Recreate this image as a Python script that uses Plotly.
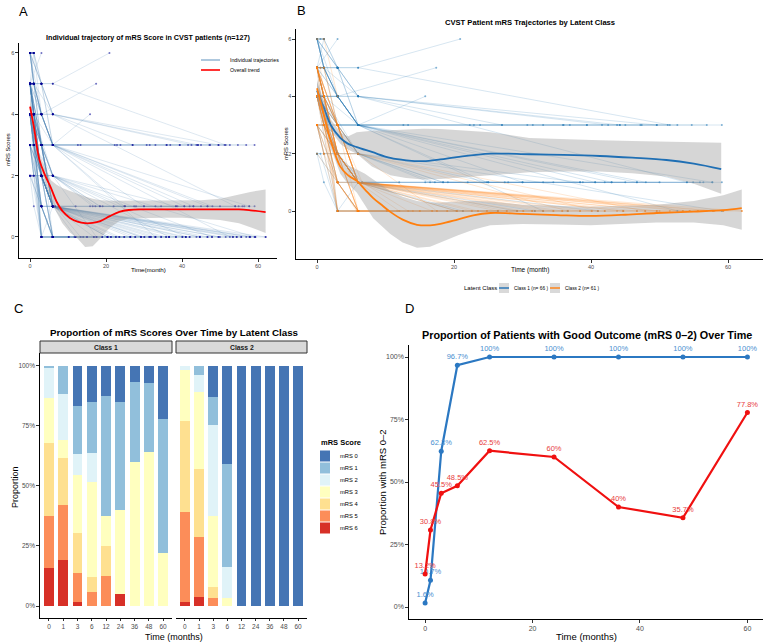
import plotly.graph_objects as go

W, H = 767, 643

# ---------------------------------------------------------------- data
# individual trajectories (time in months, mRS score)
CLASS1_TRAJ = [
    ([0, 1, 3, 6, 12.6, 22.3, 27, 31.5, 36, 41.6, 45, 49.6, 54.7, 59.1], [5, 5, 4, 3, 3, 3, 3, 3, 3, 3, 3, 3, 3, 3]),
    ([0, 3, 6, 22.9, 30.7, 35.9, 39.4, 44.2, 47.4, 52.6], [6, 4, 3, 3, 3, 3, 3, 3, 3, 3]),
    ([0, 1, 6, 23.8, 33, 36.9, 43.8, 47.2, 51.2], [4, 4, 3, 3, 3, 3, 3, 3, 3]),
    ([0, 3, 6, 51.5], [6, 5, 5, 3]),
    ([0, 1, 3, 6, 49.6], [5, 5, 5, 4, 3]),
    ([0, 3, 6, 44.2], [5, 5, 4, 3]),
    ([0, 1, 3, 6, 20.9], [6, 6, 5, 5, 6]),
    ([0, 1, 3, 17.4], [6, 5, 4, 5]),
    ([0, 3, 6, 15.8], [5, 4, 3, 4]),
    ([0, 0.3, 3.1, 6.6, 15.8, 19.1, 25, 30, 38.4, 42, 46.7, 54.9, 59.1], [4, 4, 2, 1, 1, 1, 1, 1, 1, 1, 1, 1, 1]),
    ([0, 0.9, 6, 16.5, 22, 27.4, 33, 40.6, 54, 57.7], [5, 4, 2, 1, 1, 1, 1, 1, 1, 1]),
    ([0, 3, 6, 17.2, 27.9, 38.8, 43, 55.9], [4, 3, 2, 1, 1, 1, 1, 1]),
    ([0, 1, 6, 18.4, 56.4], [3, 3, 2, 1, 1]),
    ([0, 1, 3, 6, 54], [6, 5, 4, 4, 1]),
    ([0, 3, 6, 57.7], [5, 4, 3, 1]),
    ([0, 1, 3, 6, 46.7], [4, 4, 4, 3, 1]),
    ([0, 3, 6, 30], [6, 5, 3, 1]),
    ([0, 1, 3, 6, 38.4], [5, 5, 3, 2, 1]),
    ([0, 3, 6, 59.1], [4, 3, 2, 0]),
    ([0, 1], [6, 6]),
    ([0, 0.5, 1], [6, 6, 6]),
    ([0, 3], [5, 6]),
    ([0, 3, 6, 26.4], [4, 0, 0, 0]),
    ([0, 1, 3, 6], [2, 1, 0, 0]),
    ([0, 3, 6, 36.6], [3, 1, 0, 0]),
    ([0, 1, 3, 6, 20.4], [4, 3, 1, 1, 0]),
    ([0, 3, 6, 29.2], [5, 3, 1, 0]),
    ([0, 3, 6, 41], [2, 1, 1, 0]),
    ([0, 1, 3, 6, 12], [3, 3, 2, 1, 1]),
    ([0, 3, 6, 34.5], [4, 2, 1, 1]),
    ([0, 0.5, 3, 6], [5, 4, 3, 3]),
    ([0, 1, 3, 6, 13.3], [6, 5, 5, 3, 3]),
    ([0, 3, 6, 43], [3, 3, 3, 1]),
    ([0, 1, 3, 6, 48], [5, 4, 3, 3, 1]),
    ([0, 1], [6, 5]),
    ([0, 1, 3], [6, 6, 5]),
    ([0, 0.5, 1, 3], [5, 5, 5, 4]),
    ([0, 1, 3, 6], [6, 5, 4, 3]),
    ([0, 1, 3, 6], [4, 3, 3, 3]),
    ([0, 3, 6, 31.8], [3, 2, 1, 0]),
    ([0, 1, 3, 6, 25], [5, 4, 2, 2, 1]),
    ([0, 1, 3, 6], [4, 4, 3, 2]),
    ([0, 1, 3, 6, 40.6], [6, 5, 4, 3, 1]),
    ([0, 3, 6, 52.6], [4, 4, 3, 0]),
    ([0, 1, 3, 6, 33], [5, 4, 3, 3, 0]),
    ([0, 1, 3], [5, 4, 0]),
    ([0, 3, 6, 21.3], [3, 0, 1, 0]),
    ([0, 0.5, 3, 6], [2, 2, 0, 0]),
    ([0, 1, 3, 6, 45], [4, 3, 2, 1, 1]),
    ([0, 3, 6, 27], [6, 5, 4, 3]),
    ([0, 1, 3, 6, 56.9], [5, 4, 4, 3, 3]),
    ([0, 3, 6, 39.4], [4, 4, 3, 3]),
    ([0, 1, 6, 42.5], [6, 5, 4, 3]),
    ([0, 3, 6, 18.4], [3, 2, 2, 1]),
    ([0, 1, 3, 6], [3, 2, 2, 1]),
    ([0, 3, 6, 24.8], [4, 3, 3, 1]),
    ([0, 1, 3, 6], [5, 5, 4, 4]),
    ([0, 1], [5, 6]),
    ([0, 0.5, 1, 3, 6], [4, 4, 3, 1, 0]),
    ([0, 3, 6, 50], [2, 2, 1, 1]),
]

CLASS2_TRAJ = [
    ([0, 1, 3, 6, 10.2, 15, 19, 22.6, 26.4, 30.1, 33, 36.6, 41, 44.7, 49.6, 54.4, 57.8, 62], [5, 4, 2, 0, 0, 0, 0, 0, 0, 0, 0, 0, 0, 0, 0, 0, 0, 0]),
    ([0, 3, 5.8, 11.7, 16.8, 21.3, 24.8, 29.2, 31.8, 35.8, 40.1, 43.8, 47.9, 53.4, 56.9, 59.3], [4, 1, 0, 0, 0, 0, 0, 0, 0, 0, 0, 0, 0, 0, 0, 0]),
    ([0, 3, 6.6, 13.3, 17.5, 20.4, 23.5, 27.7, 31.4, 34.5, 38.4, 42, 46.7, 51.5, 55.6], [5, 3, 1, 0, 0, 0, 0, 0, 0, 0, 0, 0, 0, 0, 0]),
    ([0, 1, 3, 6, 20.4], [5, 5, 3, 1, 0]),
    ([0, 3, 6, 26.4], [4, 2, 1, 0]),
    ([0, 1, 3, 6, 33], [4, 3, 2, 1, 0]),
    ([0, 3, 6, 38.4], [5, 3, 1, 0]),
    ([0, 3, 6, 44.7], [3, 2, 1, 0]),
    ([0, 1, 3, 6, 50], [5, 4, 2, 1, 0]),
    ([0, 3, 6, 55.6], [4, 2, 1, 0]),
    ([0, 3, 6, 59.3], [3, 1, 1, 0]),
    ([0, 1, 3, 6, 16.8], [4, 4, 3, 1, 0]),
    ([0, 3, 6, 22.6], [5, 2, 1, 0]),
    ([0, 1, 3, 6, 29.2], [3, 3, 2, 1, 0]),
    ([0, 3, 6, 36.6], [4, 3, 2, 0]),
    ([0, 3, 6, 41], [5, 2, 2, 0]),
    ([0, 1, 3, 6, 47.9], [4, 3, 2, 2, 0]),
    ([0, 3, 6, 53.4], [5, 3, 1, 0]),
    ([0, 3, 6], [4, 0, 0]),
    ([0, 1, 3, 6], [5, 4, 0, 0]),
    ([0, 3, 6, 12], [3, 0, 0, 0]),
    ([0, 1, 3, 6], [4, 3, 1, 0]),
    ([0, 3, 6], [5, 2, 0]),
    ([0, 1, 3, 6, 19], [3, 2, 1, 0, 0]),
    ([0, 3, 6], [4, 2, 1]),
    ([0, 1, 3, 6], [5, 5, 3, 1]),
    ([0, 3, 6, 14], [4, 1, 0, 0]),
    ([0, 1, 3], [6, 6, 4]),
    ([0, 1, 3, 6, 24.8], [5, 4, 3, 0, 0]),
    ([0, 3, 6, 31.4], [4, 2, 0, 0]),
    ([0, 0.5, 1, 3, 6], [5, 5, 4, 2, 1]),
    ([0, 1, 3, 6, 42], [3, 3, 2, 0, 0]),
    ([0, 3, 6, 58], [5, 2, 1, 0]),
    ([0, 1, 3, 6, 35.8], [4, 4, 2, 1, 0]),
    ([0, 3, 6, 10.2], [2, 1, 0, 0]),
    ([0, 1, 3, 6], [5, 3, 3, 1]),
    ([0, 1, 3, 6, 27.7], [4, 3, 2, 1, 0]),
    ([0, 3, 6, 46.7], [5, 3, 1, 0]),
    ([0, 1, 3, 6, 12], [4, 4, 2, 1, 0]),
    ([0, 3, 6, 17.5], [5, 3, 2, 0]),
    ([0, 1, 3, 6, 23.5], [3, 3, 2, 1, 0]),
    ([0, 3, 6, 30.1], [4, 2, 1, 0]),
    ([0, 1, 3, 6, 40.1], [5, 4, 3, 1, 0]),
    ([0, 3, 6, 49.6], [4, 3, 1, 0]),
    ([0, 1, 3, 6, 57.8], [3, 2, 2, 1, 0]),
    ([0, 3, 6], [5, 0, 0]),
    ([0, 1, 3, 6], [4, 3, 0, 0]),
    ([0, 3, 6, 15], [3, 1, 0, 0]),
    ([0, 1, 3, 6], [5, 4, 2, 0]),
    ([0, 3, 6, 34.5], [5, 2, 1, 0]),
    ([0, 1, 3, 6, 44.7], [4, 3, 2, 1, 0]),
    ([0, 3, 6, 54.4], [3, 2, 1, 0]),
    ([0, 1, 3, 6, 62], [5, 4, 3, 1, 0]),
    ([0, 3, 6, 20.4], [4, 1, 1, 0]),
]

# overall LOESS trend (panel A) with 95% band
A_TREND_X = [0, 1, 2.5, 4, 5.5, 7, 8.5, 10.5, 12.5, 14.5, 16.5, 18.5, 21, 23.5, 26, 30, 35, 40, 45, 50, 55, 58, 62]
A_TREND_Y = [4.25, 3.6, 2.5, 2.0, 1.6, 1.15, 0.85, 0.62, 0.5, 0.45, 0.46, 0.52, 0.68, 0.82, 0.88, 0.9, 0.9, 0.9, 0.9, 0.9, 0.9, 0.87, 0.81]
A_TREND_LO = [4.0, 3.4, 2.3, 1.75, 1.2, 0.8, 0.45, 0.15, -0.05, -0.33, -0.3, -0.05, 0.3, 0.52, 0.6, 0.62, 0.63, 0.63, 0.6, 0.55, 0.45, 0.32, 0.13]
A_TREND_HI = [4.5, 3.8, 2.7, 2.25, 1.85, 1.7, 1.6, 1.5, 1.4, 1.32, 1.25, 1.2, 1.18, 1.18, 1.18, 1.18, 1.18, 1.18, 1.2, 1.25, 1.4, 1.47, 1.55]

# class-specific trends (panel B)
B1_X = [0, 1, 2, 3.4, 4.5, 5.8, 8, 10.7, 13, 15.5, 18, 20.4, 25.3, 31, 36, 41.3, 46, 51, 55, 59]
B1_Y = [4.2, 3.6, 3.0, 2.55, 2.35, 2.23, 2.06, 1.85, 1.77, 1.74, 1.8, 1.88, 2.0, 1.98, 1.96, 1.92, 1.86, 1.78, 1.65, 1.46]
B1_LO = [3.9, 3.35, 2.8, 2.35, 2.15, 2.0, 1.55, 1.25, 1.15, 1.1, 1.12, 1.15, 1.25, 1.35, 1.38, 1.38, 1.32, 1.2, 0.95, 0.6]
B1_HI = [4.5, 3.85, 3.2, 2.75, 2.6, 2.75, 2.8, 2.82, 2.85, 2.87, 2.86, 2.82, 2.75, 2.55, 2.5, 2.47, 2.44, 2.42, 2.4, 2.38]

B2_X = [0, 1, 2, 3.4, 4.5, 5.8, 7, 8.2, 9.5, 10.7, 12.5, 14.6, 16.5, 18, 20.5, 22.8, 25.3, 30, 35, 39.9, 45, 49.6, 55, 59.3, 62]
B2_Y = [4.28, 3.35, 2.45, 1.55, 1.25, 1.05, 0.75, 0.45, 0.2, -0.03, -0.3, -0.48, -0.5, -0.45, -0.3, -0.15, -0.07, -0.1, -0.14, -0.17, -0.13, -0.07, -0.02, 0.03, 0.1]
B2_LO = [3.95, 3.1, 2.2, 1.3, 0.95, 0.65, 0.2, -0.25, -0.55, -0.8, -1.1, -1.28, -1.25, -1.1, -0.85, -0.65, -0.5, -0.45, -0.47, -0.5, -0.45, -0.4, -0.4, -0.5, -0.65]
B2_HI = [4.6, 3.6, 2.7, 1.85, 1.6, 1.45, 1.3, 1.1, 0.9, 0.7, 0.5, 0.35, 0.3, 0.3, 0.33, 0.35, 0.33, 0.22, 0.18, 0.15, 0.18, 0.22, 0.35, 0.55, 0.75]

# proportions of mRS scores (panel C), percent
C_TIMES = ["0", "1", "3", "6", "12", "24", "36", "48", "60"]
MRS_LEVELS = ["mRS 0", "mRS 1", "mRS 2", "mRS 3", "mRS 4", "mRS 5", "mRS 6"]
MRS_COLORS = ["#4575b4", "#91bfdb", "#e0f3f8", "#ffffbf", "#fee090", "#fc8d59", "#d73027"]
CLASS1_PROP = {
    "mRS 0": [0, 0, 16.7, 15.2, 12.5, 15, 6.7, 7.1, 22.2],
    "mRS 1": [1, 11.5, 19.8, 21.2, 50, 45, 33.3, 28.6, 55.6],
    "mRS 2": [12.2, 19.3, 8.8, 12.1, 0, 0, 0, 0, 0],
    "mRS 3": [18.9, 7.7, 24.2, 39.4, 12.5, 35, 60, 64.3, 22.2],
    "mRS 4": [30.3, 19.3, 16.9, 6.1, 12.5, 0, 0, 0, 0],
    "mRS 5": [21.6, 23.1, 12.1, 6.0, 12.5, 0, 0, 0, 0],
    "mRS 6": [16, 19.1, 1.5, 0, 0, 5, 0, 0, 0],
}
CLASS2_PROP = {
    "mRS 0": [0, 0, 13.1, 41, 100, 100, 100, 100, 100],
    "mRS 1": [0, 3.6, 11.5, 42.6, 0, 0, 0, 0, 0],
    "mRS 2": [1.6, 7.1, 37.7, 13.1, 0, 0, 0, 0, 0],
    "mRS 3": [21.4, 32.1, 29.6, 3.3, 0, 0, 0, 0, 0],
    "mRS 4": [37.7, 28.6, 4.8, 0, 0, 0, 0, 0, 0],
    "mRS 5": [37.7, 25, 3.3, 0, 0, 0, 0, 0, 0],
    "mRS 6": [1.6, 3.6, 0, 0, 0, 0, 0, 0, 0],
}

# good outcome proportions (panel D), percent
D_TIMES = [0, 1, 3, 6, 12, 24, 36, 48, 60]
D_CLASS1 = [13.2, 30.8, 45.5, 48.5, 62.5, 60, 40, 35.7, 77.8]
D_CLASS2 = [1.6, 10.7, 62.3, 96.7, 100, 100, 100, 100, 100]

# ---------------------------------------------------------------- helpers
FONT = "Liberation Sans, Arial, Helvetica, sans-serif"


def px(x):
    return x / W


def py(y):
    return 1 - y / H


annotations = []
shapes = []


def text(s, x, y, size, bold=False, angle=0, xanchor="center", color="black"):
    annotations.append(dict(
        text=f"<b>{s}</b>" if bold else s, x=px(x), y=py(y), xref="paper", yref="paper",
        showarrow=False, textangle=angle, xanchor=xanchor, yanchor="middle",
        font=dict(family=FONT, size=size, color=color)))


def rect(x0, y0, x1, y1, fill, line=None, lw=0):
    shapes.append(dict(type="rect", xref="paper", yref="paper", x0=px(x0), x1=px(x1),
                       y0=py(y1), y1=py(y0), fillcolor=fill,
                       line=dict(color=line or fill, width=lw), layer="above"))


def hline(x0, x1, y, color, width):
    shapes.append(dict(type="line", xref="paper", yref="paper", x0=px(x0), x1=px(x1),
                       y0=py(y), y1=py(y), line=dict(color=color, width=width), layer="above"))


fig = go.Figure()

# ---------------------------------------------------------------- panel A
for t, s in CLASS1_TRAJ + CLASS2_TRAJ:
    fig.add_trace(go.Scatter(x=t, y=s, mode="lines", xaxis="x", yaxis="y",
                             line=dict(color="rgba(70,130,180,0.3)", width=0.6),
                             hoverinfo="skip", showlegend=False))
ax_pts = [v for t, s in CLASS1_TRAJ + CLASS2_TRAJ for v in t]
ay_pts = [v for t, s in CLASS1_TRAJ + CLASS2_TRAJ for v in s]
fig.add_trace(go.Scatter(x=ax_pts, y=ay_pts, mode="markers", xaxis="x", yaxis="y",
                         marker=dict(color="rgba(0,0,150,0.55)", size=2, symbol="circle"),
                         hoverinfo="skip", showlegend=False))
fig.add_trace(go.Scatter(x=A_TREND_X + A_TREND_X[::-1], y=A_TREND_HI + A_TREND_LO[::-1],
                         fill="toself", fillcolor="rgba(153,153,153,0.4)", line=dict(width=0),
                         mode="lines", xaxis="x", yaxis="y", hoverinfo="skip", showlegend=False))
fig.add_trace(go.Scatter(x=A_TREND_X, y=A_TREND_Y, mode="lines", xaxis="x", yaxis="y",
                         line=dict(color="#ff0000", width=1.8, shape="spline"),
                         hoverinfo="skip", showlegend=False))

# ---------------------------------------------------------------- panel B
for trajs, col in ((CLASS1_TRAJ, "rgba(31,119,180,0.3)"), (CLASS2_TRAJ, "rgba(255,127,14,0.3)")):
    for t, s in trajs:
        fig.add_trace(go.Scatter(x=t, y=s, mode="lines", xaxis="x2", yaxis="y2",
                                 line=dict(color=col, width=0.6), hoverinfo="skip", showlegend=False))
for trajs, col in ((CLASS1_TRAJ, "rgba(31,119,180,0.55)"), (CLASS2_TRAJ, "rgba(255,127,14,0.55)")):
    fig.add_trace(go.Scatter(x=[v for t, s in trajs for v in t], y=[v for t, s in trajs for v in s],
                             mode="markers", xaxis="x2", yaxis="y2",
                             marker=dict(color=col, size=2), hoverinfo="skip", showlegend=False))
for X, Y, LO, HI, col in ((B1_X, B1_Y, B1_LO, B1_HI, "#1f6fb4"), (B2_X, B2_Y, B2_LO, B2_HI, "#ff7f0e")):
    fig.add_trace(go.Scatter(x=X + X[::-1], y=HI + LO[::-1], fill="toself",
                             fillcolor="rgba(153,153,153,0.4)", line=dict(width=0), mode="lines",
                             xaxis="x2", yaxis="y2", hoverinfo="skip", showlegend=False))
    fig.add_trace(go.Scatter(x=X, y=Y, mode="lines", xaxis="x2", yaxis="y2",
                             line=dict(color=col, width=1.8, shape="spline"),
                             hoverinfo="skip", showlegend=False))

# ---------------------------------------------------------------- panel C
for props, xa, ya in ((CLASS1_PROP, "x3", "y3"), (CLASS2_PROP, "x4", "y4")):
    for lvl, col in list(zip(MRS_LEVELS, MRS_COLORS))[::-1]:
        fig.add_trace(go.Bar(x=list(range(len(C_TIMES))), y=[v / 100 for v in props[lvl]],
                             width=0.7, marker=dict(color=col, line=dict(width=0)),
                             xaxis=xa, yaxis=ya, name=lvl, showlegend=False, hoverinfo="skip"))

# ---------------------------------------------------------------- panel D
for vals, lcol, tcol in ((D_CLASS2, "#2b78c2", "#4a8fd0"), (D_CLASS1, "#f01010", "#e84040")):
    fig.add_trace(go.Scatter(
        x=D_TIMES, y=[v / 100 for v in vals], mode="lines+markers+text",
        text=[f"{v:g}%" for v in vals], textposition="top center",
        textfont=dict(family=FONT, size=7.5, color=tcol),
        line=dict(color=lcol, width=2.2), marker=dict(color=lcol, size=5),
        xaxis="x5", yaxis="y5", hoverinfo="skip", showlegend=False))

# ---------------------------------------------------------------- axes
GREY = "#4d4d4d"
axis_common = dict(showgrid=False, zeroline=False, showline=True, linecolor="black",
                   linewidth=1.4, ticks="outside", ticklen=2.5, tickwidth=0.6, tickcolor="#333333",
                   tickfont=dict(family=FONT, size=5.5, color=GREY))
c_tick = dict(family=FONT, size=6.5, color=GREY)
d_tick = dict(family=FONT, size=7, color=GREY)

layout_axes = dict(
    xaxis=dict(axis_common, domain=[px(19), px(277)], range=[-2.9, 65], tickvals=[0, 20, 40, 60],
               anchor="y"),
    yaxis=dict(axis_common, domain=[py(258), py(43)], range=[-0.685, 6.325], tickvals=[0, 2, 4, 6],
               anchor="x"),
    xaxis2=dict(axis_common, domain=[px(296), px(763)], range=[-3.07, 65.1], tickvals=[0, 20, 40, 60],
                anchor="y2"),
    yaxis2=dict(axis_common, domain=[py(259), py(29)], range=[-1.674, 6.35], tickvals=[0, 2, 4, 6],
                anchor="x2"),
    xaxis3=dict(axis_common, domain=[px(40), px(172)], range=[-0.63, 8.63], ticklen=2,
                tickvals=list(range(len(C_TIMES))), ticktext=C_TIMES, anchor="y3", tickfont=c_tick),
    yaxis3=dict(axis_common, domain=[py(618), py(353)], range=[-0.05, 1.054],
                tickvals=[0, 0.25, 0.5, 0.75, 1], ticktext=["0%", "25%", "50%", "75%", "100%"],
                anchor="x3", tickfont=c_tick),
    xaxis4=dict(axis_common, domain=[px(176), px(307)], range=[-0.63, 8.63], ticklen=2,
                tickvals=list(range(len(C_TIMES))), ticktext=C_TIMES, anchor="y4", tickfont=c_tick),
    yaxis4=dict(showgrid=False, zeroline=False, showline=False, showticklabels=False,
                domain=[py(618), py(353)], range=[-0.05, 1.054], anchor="x4"),
    xaxis5=dict(axis_common, domain=[px(409), px(763)], range=[-3, 62.9], tickvals=[0, 20, 40, 60],
                anchor="y5", tickfont=d_tick),
    yaxis5=dict(axis_common, domain=[py(619), py(345)], range=[-0.048, 1.048],
                tickvals=[0, 0.25, 0.5, 0.75, 1], ticktext=["0%", "25%", "50%", "75%", "100%"],
                anchor="x5", tickfont=d_tick),
)

# ---------------------------------------------------------------- text
# panel letters
text("A", 23, 11, 13)
text("B", 301, 10, 13)
text("C", 18, 308, 13)
text("D", 409, 308, 13)
# titles
text("Individual trajectory of mRS Score in CVST patients (n=127)", 148, 37, 7.2, bold=True)
text("CVST Patient mRS Trajectories by Latent Class", 530, 22, 7.6, bold=True)
text("Proportion of mRS Scores Over Time by Latent Class", 174, 332, 9.8, bold=True)
text("Proportion of Patients with Good Outcome (mRS 0\u20132) Over Time", 587, 335, 10.8, bold=True)
# axis titles
text("mRS Scores", 8, 150, 5.8, angle=-90)
text("Time(month)", 148, 269, 6.2)
text("mRS Scores", 286, 144, 5.8, angle=-90)
text("Time (month)", 530, 270, 6.5)
text("Proportion", 15, 487, 9, angle=-90)
text("Time (months)", 174, 637, 9)
text("Proportion with mRS 0\u20132", 382, 482, 9.5, angle=-90)
text("Time (months)", 586, 636, 9.5)

# legend panel A
hline(201, 220, 60, "rgba(70,130,180,0.55)", 1.6)
hline(201, 220, 70, "#ff0000", 1.6)
text("Individual trajectories", 228, 60, 5.2, xanchor="left")
text("Overall trend", 228, 70, 5.2, xanchor="left")

# legend panel B
text("Latent Class", 462, 288, 6, xanchor="left")
rect(499, 283, 509, 293, "#d9d9d9")
hline(499, 509, 288, "#1f6fb4", 1.4)
text("Class 1 (n= 66 )", 512, 288, 4.8, xanchor="left")
rect(550, 283, 560, 293, "#d9d9d9")
hline(550, 560, 288, "#ff7f0e", 1.4)
text("Class 2 (n= 61 )", 563, 288, 4.8, xanchor="left")

# facet strips panel C
rect(40, 341, 172, 353, "#d9d9d9", "#333333", 1)
rect(176, 341, 307, 353, "#d9d9d9", "#333333", 1)
text("Class 1", 106, 347, 6.8, bold=True, color="#1a1a1a")
text("Class 2", 241.5, 347, 6.8, bold=True, color="#1a1a1a")

# legend panel C
text("mRS Score", 319, 442, 7.5, bold=True, xanchor="left")
for i, (lvl, col) in enumerate(zip(MRS_LEVELS, MRS_COLORS)):
    yc = 456 + 12 * i
    rect(320, yc - 5.5, 330, yc + 5.5, col)
    text(lvl, 338, yc, 5.8, xanchor="left")

fig.update_layout(
    width=W, height=H, margin=dict(l=0, r=0, t=0, b=0), autosize=False,
    paper_bgcolor="white", plot_bgcolor="white", barmode="stack", bargap=0,
    showlegend=False, annotations=annotations, shapes=shapes,
    font=dict(family=FONT), **layout_axes)

fig.write_html("out.html")
